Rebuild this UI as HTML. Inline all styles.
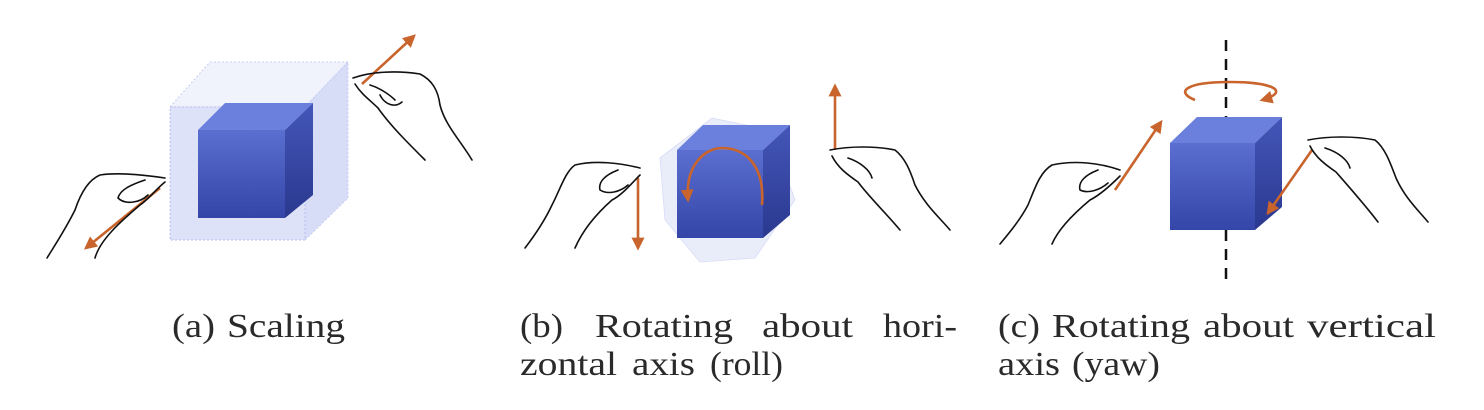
<!DOCTYPE html>
<html><head><meta charset="utf-8"><style>
html,body{margin:0;padding:0;background:#fff;width:1484px;height:410px;overflow:hidden}
svg{display:block}
text{font-family:"Liberation Serif",serif;font-size:34px;fill:#2a2a2a}
.hand{fill:none;stroke:#111;stroke-width:1.6;stroke-linecap:round;stroke-linejoin:round}
.arr{stroke:#c8642c;stroke-width:2.6;fill:none}
</style></head><body>
<svg width="1484" height="410" viewBox="0 0 1484 410">
<defs>
<marker id="ah" viewBox="0 0 10 10" refX="8" refY="5" markerWidth="5" markerHeight="5" orient="auto-start-reverse"><path d="M0,0L10,5L0,10z" fill="#c8642c"/></marker>
<linearGradient id="fr" x1="0" y1="0" x2="0" y2="1"><stop offset="0" stop-color="#5a6fd0"/><stop offset="1" stop-color="#3446a8"/></linearGradient>
<linearGradient id="sd" x1="0" y1="0" x2="0" y2="1"><stop offset="0" stop-color="#4456b8"/><stop offset="1" stop-color="#2a388f"/></linearGradient>
</defs>

<!-- Panel A -->
<g>
 <g>
  <polygon points="170,107 210,62 348,62 305,107" fill="#f1f3fc" stroke="#c5ccf2" stroke-dasharray="2,2"/>
  <polygon points="305,107 348,62 348,198 305,240" fill="#d8ddf7" stroke="#c5ccf2" stroke-dasharray="2,2"/>
  <rect x="170" y="107" width="135" height="133" fill="#dde2f8" stroke="#b6bfee" stroke-dasharray="2,2"/>
 </g>
 <g>
  <polygon points="198,130 225,103 313,103 285,130" fill="#6b80dc"/>
  <polygon points="285,130 313,103 313,195 285,218" fill="url(#sd)"/>
  <rect x="198" y="130" width="87" height="88" fill="url(#fr)"/>
 </g>
 <line class="arr" x1="362" y1="84" x2="414" y2="36" marker-end="url(#ah)"/>
 <line class="arr" x1="160" y1="188" x2="86" y2="248" marker-end="url(#ah)"/>
 <path class="hand" d="M353,78 C370,72 395,70 420,74 C432,80 438,90 440,105 C445,125 460,140 472,160 M355,84 C362,95 370,100 378,108 C390,125 405,140 425,160 M370,85 C380,88 390,95 395,100 M380,95 C385,105 395,108 402,102"/>
 <path class="hand" d="M165,178 C145,175 120,172 100,175 C88,180 80,195 75,210 C65,230 55,245 47,258 M165,182 C155,190 148,200 140,205 C120,222 100,240 95,258 M145,180 C130,185 120,190 118,198 M118,198 C125,205 140,203 148,195"/>
 <g>
  <text x="172" y="337" textLength="43" lengthAdjust="spacingAndGlyphs">(a)</text>
  <text x="227" y="337" textLength="118" lengthAdjust="spacingAndGlyphs">Scaling</text>
 </g>
</g>

<!-- Panel B -->
<g>
 <polygon points="660,158 712,118 770,130 795,200 755,258 700,262 665,220" fill="#c3ccf2" opacity="0.35" stroke="#8f9be6" stroke-width="0.8"/>
 <g>
  <polygon points="677,150 703,125 790,125 763,150" fill="#6b80dc"/>
  <polygon points="763,150 790,125 790,215 763,238" fill="url(#sd)"/>
  <rect x="677" y="150" width="86" height="88" fill="url(#fr)"/>
 </g>
 <path class="arr" d="M688,200 C685,165 705,148 722,148 C745,148 765,165 762,205" marker-start="url(#ah)"/>
 <line class="arr" x1="638" y1="178" x2="638" y2="248" marker-end="url(#ah)"/>
 <line class="arr" x1="835" y1="150" x2="835" y2="86" marker-end="url(#ah)"/>
 <path class="hand" d="M640,168 C620,163 595,160 575,165 C565,172 560,190 552,205 C545,220 535,235 525,248 M640,175 C630,185 622,195 612,200 C595,215 582,232 575,248 M618,170 C605,175 598,182 600,190 C608,195 620,192 628,185"/>
 <path class="hand" d="M830,150 C850,146 875,146 895,150 C905,158 910,170 915,185 C925,205 940,218 950,230 M832,156 C838,168 848,175 858,182 C870,198 885,212 900,230 M848,158 C860,162 870,170 872,178"/>
 <g>
  <text x="520" y="337" textLength="43" lengthAdjust="spacingAndGlyphs">(b)</text>
  <text x="595" y="337" textLength="138" lengthAdjust="spacingAndGlyphs">Rotating</text>
  <text x="762" y="337" textLength="91" lengthAdjust="spacingAndGlyphs">about</text>
  <text x="883" y="337" textLength="74" lengthAdjust="spacingAndGlyphs">hori-</text>
  <text x="520" y="375" textLength="97" lengthAdjust="spacingAndGlyphs">zontal</text>
  <text x="632" y="375" textLength="63" lengthAdjust="spacingAndGlyphs">axis</text>
  <text x="710" y="375" textLength="73" lengthAdjust="spacingAndGlyphs">(roll)</text>
 </g>
</g>

<!-- Panel C -->
<g>
 <line x1="1226" y1="40" x2="1226" y2="280" stroke="#111" stroke-width="2.5" stroke-dasharray="11,8"/>
 <g>
  <polygon points="1170,143 1197,117 1282,117 1255,143" fill="#6b80dc"/>
  <polygon points="1255,143 1282,117 1282,207 1255,230" fill="url(#sd)"/>
  <rect x="1170" y="143" width="85" height="87" fill="url(#fr)"/>
 </g>
 <path class="arr" d="M1195,100 C1175,92 1185,82 1230,82 C1275,82 1290,92 1262,100" marker-end="url(#ah)"/>
 <line class="arr" x1="1115" y1="190" x2="1161" y2="122" marker-end="url(#ah)"/>
 <line class="arr" x1="1312" y1="150" x2="1268" y2="213" marker-end="url(#ah)"/>
 <path class="hand" d="M1120,170 C1100,163 1075,160 1052,165 C1040,172 1035,188 1028,205 C1020,220 1010,232 1000,244 M1120,176 C1110,186 1100,195 1090,200 C1072,215 1058,230 1052,244 M1098,170 C1085,175 1078,182 1080,190 C1088,194 1100,190 1108,183"/>
 <path class="hand" d="M1308,140 C1328,136 1355,136 1375,140 C1385,148 1390,162 1396,178 C1405,198 1418,210 1428,222 M1310,146 C1316,158 1326,165 1336,172 C1350,188 1365,205 1378,222 M1325,148 C1338,152 1348,160 1350,168"/>
 <g>
  <text x="998" y="337" textLength="42" lengthAdjust="spacingAndGlyphs">(c)</text>
  <text x="1052" y="337" textLength="138" lengthAdjust="spacingAndGlyphs">Rotating</text>
  <text x="1203" y="337" textLength="91" lengthAdjust="spacingAndGlyphs">about</text>
  <text x="1307" y="337" textLength="129" lengthAdjust="spacingAndGlyphs">vertical</text>
  <text x="998" y="375" textLength="62" lengthAdjust="spacingAndGlyphs">axis</text>
  <text x="1072" y="375" textLength="88" lengthAdjust="spacingAndGlyphs">(yaw)</text>
 </g>
</g>
</svg>
</body></html>
